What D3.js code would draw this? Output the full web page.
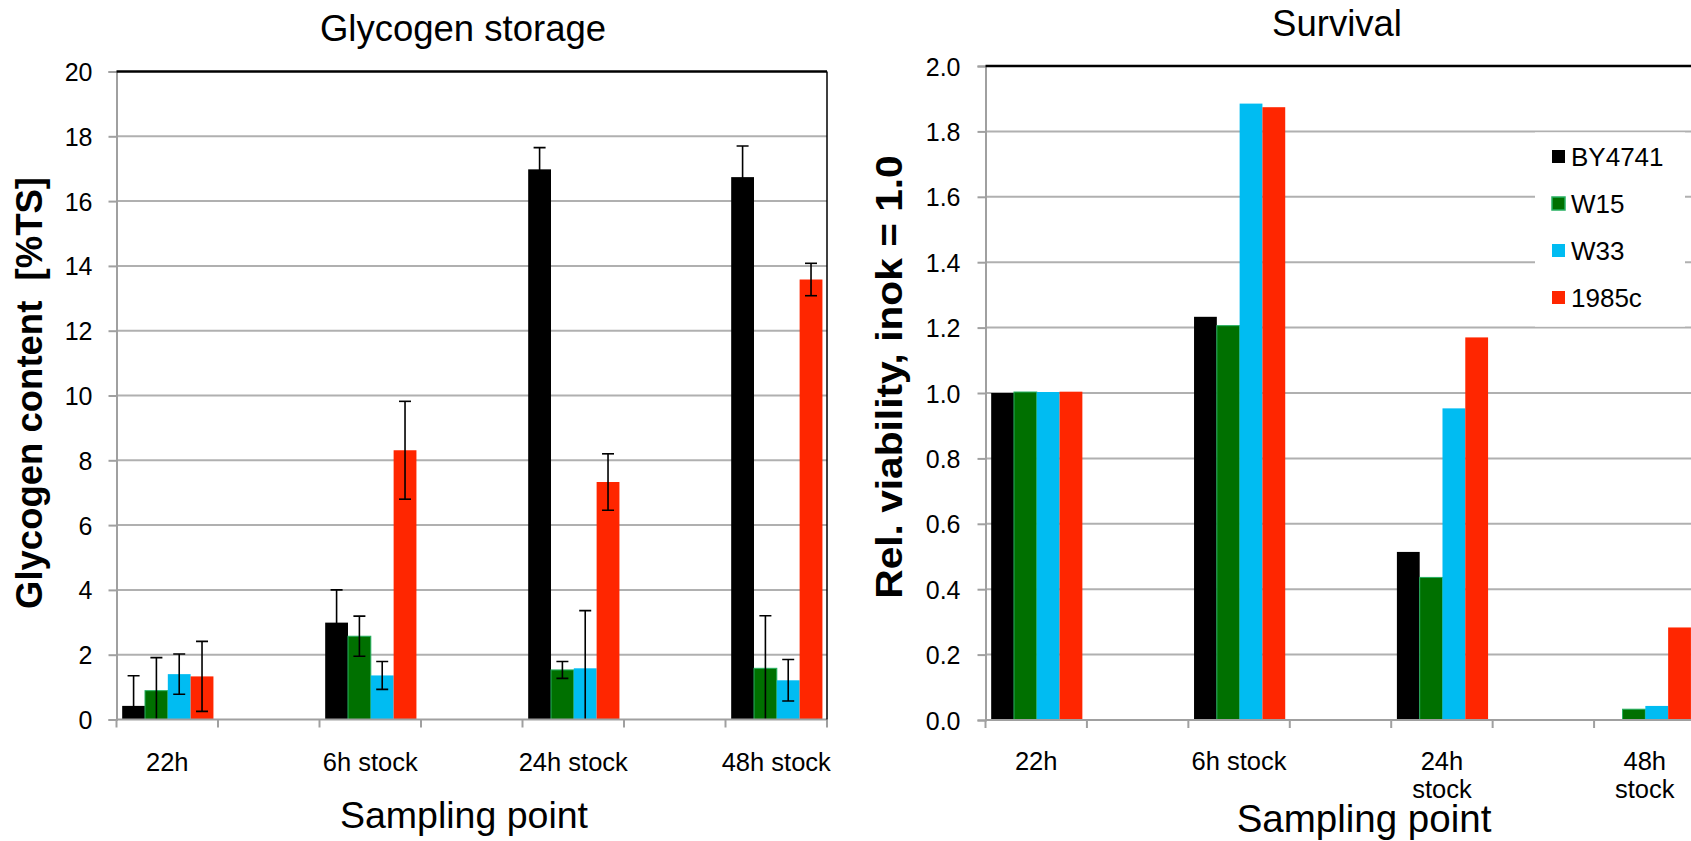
<!DOCTYPE html>
<html>
<head>
<meta charset="utf-8">
<script src="https://cdn.jsdelivr.net/npm/d3@7"></script>
<style>
  body { margin: 0; background: #fff; }
  svg { display: block; font-family: "Liberation Sans", Arial, sans-serif; }
</style>
</head>
<body>
<script>
const width = 1691;
const height = 841;

// Data
const samplingPoints = ["22h", "6h stock", "24h stock", "48h stock"];
const strains = ["BY4741", "W15", "W33", "1985c"];
const strainColors = ["#000000", "#007000", "#00bcf2", "#ff2600"];

// glycogen content [%TS], mean and error per strain
const glycogenBY4741 = [0.42, 2.99, 16.98, 16.74];
const glycogenW15 = [0.89, 2.57, 1.53, 1.58];
const glycogenW33 = [1.40, 1.36, 1.58, 1.21];
const glycogen1985c = [1.33, 8.31, 7.33, 13.58];
const errorBY4741 = [0.93, 1.01, 0.67, 0.96];
const errorW15 = [1.02, 0.62, 0.26, 1.62];
const errorW33 = [0.62, 0.43, 1.78, 0.64];
const error1985c = [1.08, 1.51, 0.87, 0.50];

// relative viability, inok = 1.0
const survivalBY4741 = [1.0, 1.233, 0.514, 0];
const survivalW15 = [1.003, 1.206, 0.436, 0.033];
const survivalW33 = [1.003, 1.885, 0.953, 0.043];
const survival1985c = [1.004, 1.874, 1.170, 0.283];

const glycogenTicks = [0, 2, 4, 6, 8, 10, 12, 14, 16, 18, 20];
const survivalTicks = [0, 0.2, 0.4, 0.6, 0.8, 1.0, 1.2, 1.4, 1.6, 1.8, 2.0];

const svg = d3.select("body").append("svg")
  .attr("width", width)
  .attr("height", height);

function drawPanel(p) {
  const g = svg.append("g");

  // categories with an empty slot between them
  const slots = [];
  p.categories.forEach((c, i) => { if (i) slots.push("gap" + i); slots.push(c); });

  const x0 = d3.scaleBand().domain(slots).range([p.left, p.right]);
  const bw = x0.bandwidth();
  const x1 = d3.scaleBand().domain(strains).range([bw * 0.056, bw * 0.955]);
  const y = d3.scaleLinear().domain([p.ticks[0], p.ticks[p.ticks.length - 1]]).range([p.bottom, p.top]);

  // gridlines
  g.append("g")
    .selectAll("line")
    .data(p.ticks.slice(1, -1))
    .join("line")
      .attr("x1", p.left).attr("x2", p.right)
      .attr("y1", d => y(d)).attr("y2", d => y(d))
      .attr("stroke", "#b0b0b0")
      .attr("stroke-width", 2);

  // legend box hides the gridlines behind it
  if (p.legend) {
    const lg = g.append("g");
    lg.append("rect")
      .attr("x", p.legend.x).attr("y", y(p.legend.from) + 1)
      .attr("width", p.legend.w).attr("height", y(p.legend.to) - y(p.legend.from) - 2)
      .attr("fill", "#fff");
    const rows = lg.selectAll("g")
      .data(strains)
      .join("g")
        .attr("transform", (d, i) => `translate(${p.legend.x + 17}, ${p.legend.y0 + i * p.legend.step})`);
    rows.append("rect")
      .attr("x", 0).attr("y", -7).attr("width", 13).attr("height", 13)
      .attr("fill", (d, i) => strainColors[i])
      .attr("stroke", (d, i) => i === 1 ? "#26b060" : "none")
      .attr("stroke-width", 1.5);
    rows.append("text")
      .attr("x", 19).attr("dy", "0.36em")
      .style("font-size", "26px")
      .text(d => d);
  }

  // bars
  const bars = [];
  p.categories.forEach((c, i) => {
    strains.forEach((s, j) => {
      bars.push({ cat: c, strain: s, color: strainColors[j], value: p.series[j][i], err: p.errors ? p.errors[j][i] : null });
    });
  });

  g.append("g")
    .selectAll("rect")
    .data(bars.filter(d => d.value > 0))
    .join("rect")
      .attr("x", d => x0(d.cat) + x1(d.strain))
      .attr("width", x1.bandwidth())
      .attr("y", d => y(d.value))
      .attr("height", d => y(0) - y(d.value))
      .attr("fill", d => d.color)
      .attr("stroke", d => d.strain === "W15" ? "#26b060" : "none")
      .attr("stroke-width", 1);

  // error bars, clipped to the plot area
  if (p.errors) {
    const clipId = "clip-" + p.id;
    svg.append("clipPath").attr("id", clipId)
      .append("rect")
        .attr("x", p.left).attr("y", p.top)
        .attr("width", p.right - p.left).attr("height", p.bottom - p.top);
    const eg = g.append("g")
      .attr("clip-path", `url(#${clipId})`)
      .attr("stroke", "#000")
      .attr("stroke-width", 1.6)
      .selectAll("g")
      .data(bars)
      .join("g")
        .attr("transform", d => `translate(${x0(d.cat) + x1(d.strain) + x1.bandwidth() / 2}, 0)`);
    eg.append("line")
      .attr("y1", d => y(d.value - d.err)).attr("y2", d => y(d.value + d.err));
    eg.append("line")
      .attr("x1", -6).attr("x2", 6)
      .attr("y1", d => y(d.value + d.err)).attr("y2", d => y(d.value + d.err));
    eg.append("line")
      .attr("x1", -6).attr("x2", 6)
      .attr("y1", d => y(d.value - d.err)).attr("y2", d => y(d.value - d.err));
  }

  // vertical axis
  g.append("g")
    .attr("transform", `translate(${p.left}, 0)`)
    .call(d3.axisLeft(y).tickValues(p.ticks).tickFormat(p.format).tickSize(8).tickPadding(p.tickPadding))
    .call(a => a.select(".domain").attr("stroke", "#a0a0a0").attr("stroke-width", 2))
    .call(a => a.selectAll(".tick line").attr("stroke", "#a0a0a0").attr("stroke-width", 2))
    .call(a => a.selectAll(".tick text")
      .attr("dy", "0.36em")
      .attr("fill", "#000")
      .style("font-family", "Liberation Sans, Arial, sans-serif")
      .style("font-size", "25px"));

  // horizontal axis with ticks between slots
  g.append("line")
    .attr("x1", p.left).attr("x2", Math.min(p.right, width))
    .attr("y1", y(0)).attr("y2", y(0))
    .attr("stroke", "#a0a0a0").attr("stroke-width", 2);
  g.append("g")
    .selectAll("line")
    .data(slots.map(d => x0(d)).concat([p.right]))
    .join("line")
      .attr("x1", d => d).attr("x2", d => d)
      .attr("y1", y(0)).attr("y2", y(0) + 8)
      .attr("stroke", "#a0a0a0").attr("stroke-width", 2);

  // category labels
  const labels = g.append("g")
    .attr("text-anchor", "middle")
    .style("font-size", "25.5px")
    .selectAll("text")
    .data(p.categories)
    .join("text")
      .attr("x", d => x0(d) + bw / 2)
      .attr("y", p.labelY)
      .text(d => d);
  if (p.wrapLabels) {
    labels.each(function(d) {
      const t = d3.select(this);
      if (this.getComputedTextLength() > bw) {
        const x = t.attr("x");
        t.text(null);
        d.split(" ").forEach((w, k) => {
          t.append("tspan").attr("x", x).attr("dy", k ? 28 : 0).text(w);
        });
      }
    });
  }

  // top border, right border
  g.append("line")
    .attr("x1", p.left).attr("x2", Math.min(p.right, width))
    .attr("y1", p.top).attr("y2", p.top)
    .attr("stroke", "#000").attr("stroke-width", 2.5);
  if (p.right < width) {
    g.append("line")
      .attr("x1", p.right).attr("x2", p.right)
      .attr("y1", p.top).attr("y2", p.bottom)
      .attr("stroke", "#000").attr("stroke-width", 1.5);
  }

  // titles
  g.append("text")
    .attr("text-anchor", "middle")
    .attr("x", p.title.x).attr("y", p.title.y)
    .style("font-size", p.title.size + "px")
    .text(p.title.text);

  g.append("text")
    .attr("text-anchor", "middle")
    .attr("x", p.xTitle.x).attr("y", p.xTitle.y)
    .style("font-size", p.xTitle.size + "px")
    .text("Sampling point");

  g.append("text")
    .attr("text-anchor", "middle")
    .attr("transform", `translate(${p.yTitle.x}, ${p.yTitle.y}) rotate(-90) scale(${p.yTitle.k}, 1)`)
    .style("font-size", p.yTitle.size + "px")
    .style("font-weight", "bold")
    .style("white-space", "pre")
    .text(p.yTitle.text);
}

drawPanel({
  id: "glycogen",
  categories: samplingPoints,
  series: [glycogenBY4741, glycogenW15, glycogenW33, glycogen1985c],
  errors: [errorBY4741, errorW15, errorW33, error1985c],
  ticks: glycogenTicks,
  format: d3.format("d"),
  left: 116.5, right: 827, top: 71.5, bottom: 719.5,
  tickPadding: 16,
  labelY: 771,
  wrapLabels: false,
  title: { text: "Glycogen storage", x: 463, y: 41, size: 36.5 },
  xTitle: { x: 464, y: 828, size: 37.5 },
  yTitle: { text: "Glycogen content  [%TS]", x: 42, y: 393, size: 36.5, k: 1 }
});

drawPanel({
  id: "survival",
  categories: samplingPoints,
  series: [survivalBY4741, survivalW15, survivalW33, survival1985c],
  errors: null,
  ticks: survivalTicks,
  format: d3.format(".1f"),
  left: 985.5, right: 1695.5, top: 66, bottom: 720,
  tickPadding: 17,
  labelY: 770,
  wrapLabels: true,
  legend: { x: 1535, w: 150, from: 1.8, to: 1.2, y0: 157, step: 47 },
  title: { text: "Survival", x: 1337, y: 36, size: 36.5 },
  xTitle: { x: 1364, y: 832, size: 38.5 },
  yTitle: { text: "Rel. viability, inok = 1.0", x: 902, y: 377, size: 36, k: 1.13 }
});
</script>
</body>
</html>
